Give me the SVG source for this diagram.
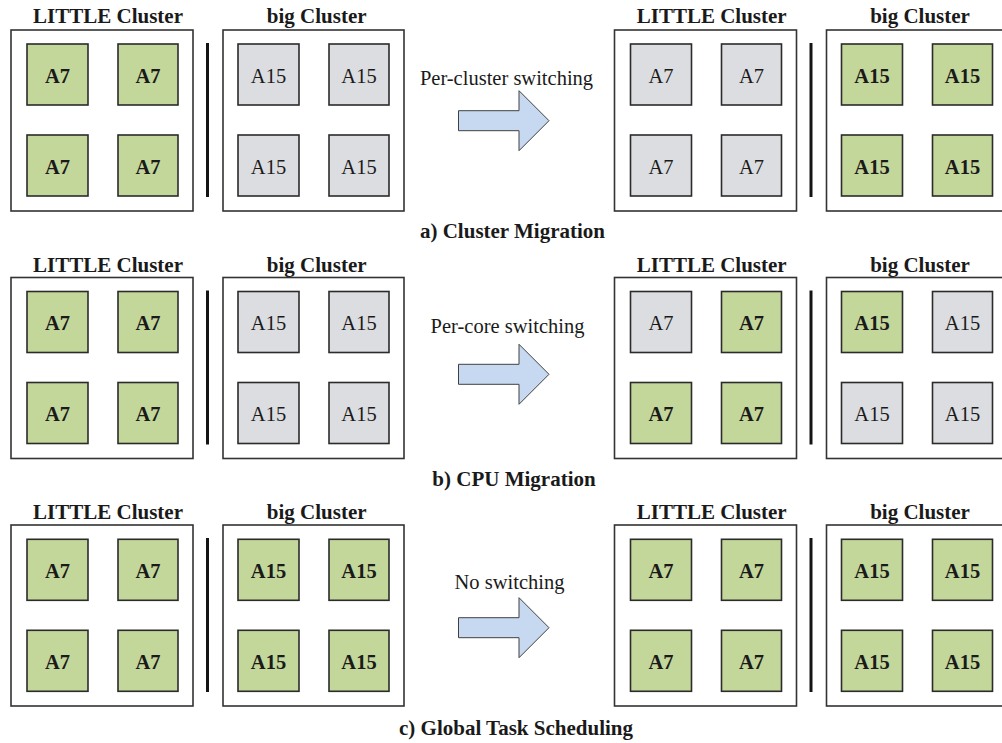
<svg xmlns="http://www.w3.org/2000/svg" width="1002" height="743" viewBox="0 0 1002 743">
<defs>
<style>
text{font-family:"Liberation Serif","Times New Roman",serif;fill:#1a1a1a;text-anchor:middle}
.title{font-size:21px;font-weight:bold}
.cap{font-size:21px;font-weight:bold}
.lbl{font-size:20.5px}
.core{font-size:20.5px}
.on text{font-weight:bold}
.box{fill:#fff;stroke:#333;stroke-width:1.6}
.sq{stroke:#2b2b2b;stroke-width:1.6}
.on rect{fill:#c4d79b}
.off rect{fill:#dcdde0}
.bar{stroke:#141414;stroke-width:3}
.arrow{fill:#c6d9f1;stroke:#404040;stroke-width:1}
</style>
</defs>
<rect width="1002" height="743" fill="#fff"/>

<!-- Section a -->
<g id="section-a">
 <g id="a-left-little">
  <text class="title" x="108" y="23.3">LITTLE Cluster</text>
  <rect class="box" x="11" y="30" width="182" height="181"/>
  <g class="on"><rect class="sq" x="27" y="44" width="61" height="61"/><text class="core" x="57.5" y="82.5">A7</text></g>
  <g class="on"><rect class="sq" x="118" y="44" width="60" height="61"/><text class="core" x="148" y="82.5">A7</text></g>
  <g class="on"><rect class="sq" x="27" y="135" width="61" height="61"/><text class="core" x="57.5" y="173.5">A7</text></g>
  <g class="on"><rect class="sq" x="118" y="135" width="60" height="61"/><text class="core" x="148" y="173.5">A7</text></g>
 </g>
 <g id="a-left-big">
  <text class="title" x="316.7" y="23.3">big Cluster</text>
  <rect class="box" x="223" y="30" width="181" height="181"/>
  <g class="off"><rect class="sq" x="238" y="44" width="61" height="61"/><text class="core" x="268.5" y="82.5">A15</text></g>
  <g class="off"><rect class="sq" x="329" y="44" width="60" height="61"/><text class="core" x="359" y="82.5">A15</text></g>
  <g class="off"><rect class="sq" x="238" y="135" width="61" height="61"/><text class="core" x="268.5" y="173.5">A15</text></g>
  <g class="off"><rect class="sq" x="329" y="135" width="60" height="61"/><text class="core" x="359" y="173.5">A15</text></g>
 </g>
 <g id="a-right-little">
  <text class="title" x="711.7" y="23.3">LITTLE Cluster</text>
  <rect class="box" x="614.5" y="30" width="182" height="181"/>
  <g class="off"><rect class="sq" x="630.5" y="44" width="61" height="61"/><text class="core" x="661" y="82.5">A7</text></g>
  <g class="off"><rect class="sq" x="721.5" y="44" width="60" height="61"/><text class="core" x="751.5" y="82.5">A7</text></g>
  <g class="off"><rect class="sq" x="630.5" y="135" width="61" height="61"/><text class="core" x="661" y="173.5">A7</text></g>
  <g class="off"><rect class="sq" x="721.5" y="135" width="60" height="61"/><text class="core" x="751.5" y="173.5">A7</text></g>
 </g>
 <g id="a-right-big">
  <text class="title" x="920" y="23.3">big Cluster</text>
  <rect class="box" x="826.5" y="30" width="181" height="181"/>
  <g class="on"><rect class="sq" x="841.5" y="44" width="61" height="61"/><text class="core" x="872" y="82.5">A15</text></g>
  <g class="on"><rect class="sq" x="932.5" y="44" width="60" height="61"/><text class="core" x="962.5" y="82.5">A15</text></g>
  <g class="on"><rect class="sq" x="841.5" y="135" width="61" height="61"/><text class="core" x="872" y="173.5">A15</text></g>
  <g class="on"><rect class="sq" x="932.5" y="135" width="60" height="61"/><text class="core" x="962.5" y="173.5">A15</text></g>
 </g>
 <text class="cap" x="512.5" y="238.3">a) Cluster Migration</text>
</g>

<!-- Section b -->
<g id="section-b">
 <g id="b-left-little">
  <text class="title" x="108" y="271.5">LITTLE Cluster</text>
  <rect class="box" x="11" y="277.5" width="182" height="181"/>
  <g class="on"><rect class="sq" x="27" y="291.5" width="61" height="61"/><text class="core" x="57.5" y="330">A7</text></g>
  <g class="on"><rect class="sq" x="118" y="291.5" width="60" height="61"/><text class="core" x="148" y="330">A7</text></g>
  <g class="on"><rect class="sq" x="27" y="382.5" width="61" height="61"/><text class="core" x="57.5" y="421">A7</text></g>
  <g class="on"><rect class="sq" x="118" y="382.5" width="60" height="61"/><text class="core" x="148" y="421">A7</text></g>
 </g>
 <g id="b-left-big">
  <text class="title" x="316.7" y="271.5">big Cluster</text>
  <rect class="box" x="223" y="277.5" width="181" height="181"/>
  <g class="off"><rect class="sq" x="238" y="291.5" width="61" height="61"/><text class="core" x="268.5" y="330">A15</text></g>
  <g class="off"><rect class="sq" x="329" y="291.5" width="60" height="61"/><text class="core" x="359" y="330">A15</text></g>
  <g class="off"><rect class="sq" x="238" y="382.5" width="61" height="61"/><text class="core" x="268.5" y="421">A15</text></g>
  <g class="off"><rect class="sq" x="329" y="382.5" width="60" height="61"/><text class="core" x="359" y="421">A15</text></g>
 </g>
 <g id="b-right-little">
  <text class="title" x="711.7" y="271.5">LITTLE Cluster</text>
  <rect class="box" x="614.5" y="277.5" width="182" height="181"/>
  <g class="off"><rect class="sq" x="630.5" y="291.5" width="61" height="61"/><text class="core" x="661" y="330">A7</text></g>
  <g class="on"><rect class="sq" x="721.5" y="291.5" width="60" height="61"/><text class="core" x="751.5" y="330">A7</text></g>
  <g class="on"><rect class="sq" x="630.5" y="382.5" width="61" height="61"/><text class="core" x="661" y="421">A7</text></g>
  <g class="on"><rect class="sq" x="721.5" y="382.5" width="60" height="61"/><text class="core" x="751.5" y="421">A7</text></g>
 </g>
 <g id="b-right-big">
  <text class="title" x="920" y="271.5">big Cluster</text>
  <rect class="box" x="826.5" y="277.5" width="181" height="181"/>
  <g class="on"><rect class="sq" x="841.5" y="291.5" width="61" height="61"/><text class="core" x="872" y="330">A15</text></g>
  <g class="off"><rect class="sq" x="932.5" y="291.5" width="60" height="61"/><text class="core" x="962.5" y="330">A15</text></g>
  <g class="off"><rect class="sq" x="841.5" y="382.5" width="61" height="61"/><text class="core" x="872" y="421">A15</text></g>
  <g class="off"><rect class="sq" x="932.5" y="382.5" width="60" height="61"/><text class="core" x="962.5" y="421">A15</text></g>
 </g>
 <text class="cap" x="514" y="485.5">b) CPU Migration</text>
</g>

<!-- Section c -->
<g id="section-c">
 <g id="c-left-little">
  <text class="title" x="108" y="519.3">LITTLE Cluster</text>
  <rect class="box" x="11" y="525" width="182" height="181"/>
  <g class="on"><rect class="sq" x="27" y="539.3" width="61" height="61"/><text class="core" x="57.5" y="577.8">A7</text></g>
  <g class="on"><rect class="sq" x="118" y="539.3" width="60" height="61"/><text class="core" x="148" y="577.8">A7</text></g>
  <g class="on"><rect class="sq" x="27" y="630.3" width="61" height="61"/><text class="core" x="57.5" y="668.8">A7</text></g>
  <g class="on"><rect class="sq" x="118" y="630.3" width="60" height="61"/><text class="core" x="148" y="668.8">A7</text></g>
 </g>
 <g id="c-left-big">
  <text class="title" x="316.7" y="519.3">big Cluster</text>
  <rect class="box" x="223" y="525" width="181" height="181"/>
  <g class="on"><rect class="sq" x="238" y="539.3" width="61" height="61"/><text class="core" x="268.5" y="577.8">A15</text></g>
  <g class="on"><rect class="sq" x="329" y="539.3" width="60" height="61"/><text class="core" x="359" y="577.8">A15</text></g>
  <g class="on"><rect class="sq" x="238" y="630.3" width="61" height="61"/><text class="core" x="268.5" y="668.8">A15</text></g>
  <g class="on"><rect class="sq" x="329" y="630.3" width="60" height="61"/><text class="core" x="359" y="668.8">A15</text></g>
 </g>
 <g id="c-right-little">
  <text class="title" x="711.7" y="519.3">LITTLE Cluster</text>
  <rect class="box" x="614.5" y="525" width="182" height="181"/>
  <g class="on"><rect class="sq" x="630.5" y="539.3" width="61" height="61"/><text class="core" x="661" y="577.8">A7</text></g>
  <g class="on"><rect class="sq" x="721.5" y="539.3" width="60" height="61"/><text class="core" x="751.5" y="577.8">A7</text></g>
  <g class="on"><rect class="sq" x="630.5" y="630.3" width="61" height="61"/><text class="core" x="661" y="668.8">A7</text></g>
  <g class="on"><rect class="sq" x="721.5" y="630.3" width="60" height="61"/><text class="core" x="751.5" y="668.8">A7</text></g>
 </g>
 <g id="c-right-big">
  <text class="title" x="920" y="519.3">big Cluster</text>
  <rect class="box" x="826.5" y="525" width="181" height="181"/>
  <g class="on"><rect class="sq" x="841.5" y="539.3" width="61" height="61"/><text class="core" x="872" y="577.8">A15</text></g>
  <g class="on"><rect class="sq" x="932.5" y="539.3" width="60" height="61"/><text class="core" x="962.5" y="577.8">A15</text></g>
  <g class="on"><rect class="sq" x="841.5" y="630.3" width="61" height="61"/><text class="core" x="872" y="668.8">A15</text></g>
  <g class="on"><rect class="sq" x="932.5" y="630.3" width="60" height="61"/><text class="core" x="962.5" y="668.8">A15</text></g>
 </g>
 <text class="cap" x="516" y="735">c) Global Task Scheduling</text>
</g>

<!-- Separators and transition arrows -->
<g id="connectors">
 <line class="bar" x1="207.5" y1="43" x2="207.5" y2="197"/>
 <line class="bar" x1="811" y1="43" x2="811" y2="197"/>
 <line class="bar" x1="207.5" y1="290.5" x2="207.5" y2="444.5"/>
 <line class="bar" x1="811" y1="290.5" x2="811" y2="444.5"/>
 <line class="bar" x1="207.5" y1="538" x2="207.5" y2="692"/>
 <line class="bar" x1="811" y1="538" x2="811" y2="692"/>

 <g id="arrow-a">
  <text class="lbl" x="506.5" y="85">Per-cluster switching</text>
  <polygon class="arrow" points="458.5,110.7 519,110.7 519,90.7 549,120.7 519,150.7 519,130.7 458.5,130.7"/>
 </g>
 <g id="arrow-b">
  <text class="lbl" x="507.5" y="333.3">Per-core switching</text>
  <polygon class="arrow" points="458.5,364.3 519,364.3 519,344.3 549,374.3 519,404.3 519,384.3 458.5,384.3"/>
 </g>
 <g id="arrow-c">
  <text class="lbl" x="509.5" y="589">No switching</text>
  <polygon class="arrow" points="458.5,617.7 519,617.7 519,597.7 549,627.7 519,657.7 519,637.7 458.5,637.7"/>
 </g>
</g>
</svg>
